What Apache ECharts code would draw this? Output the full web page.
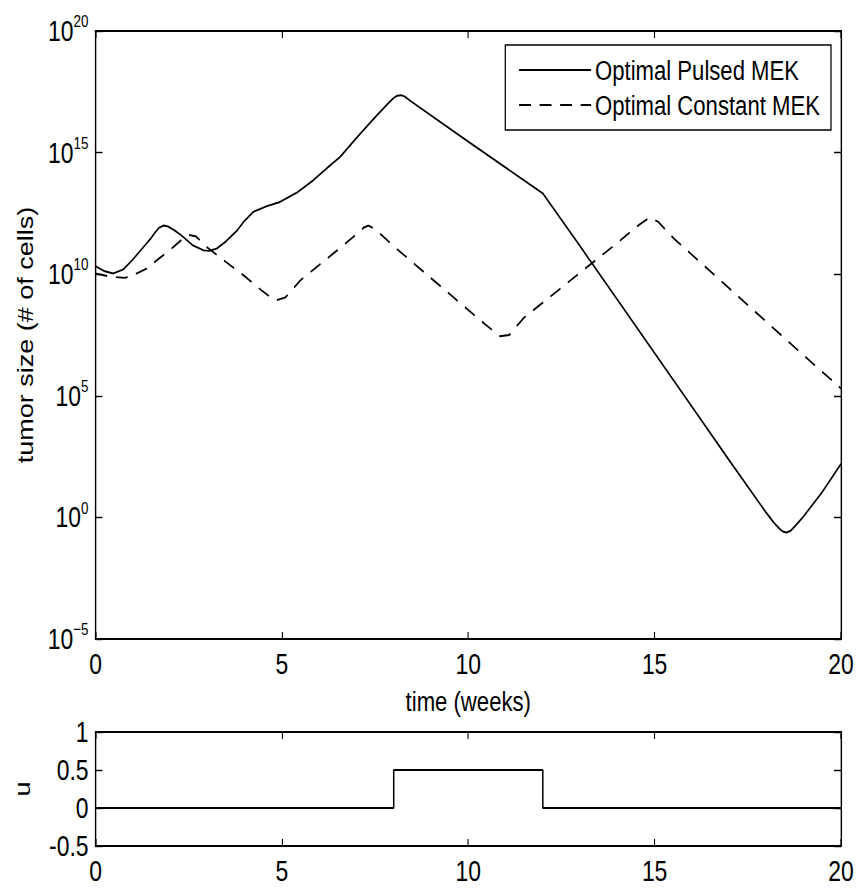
<!DOCTYPE html>
<html><head><meta charset="utf-8">
<script src="https://cdn.jsdelivr.net/npm/echarts@6/dist/echarts.min.js"></script>
<style>
html,body{margin:0;padding:0;background:#fff;overflow:hidden;width:859px;height:888px}
#wrap{width:859px;height:888px;overflow:hidden;position:relative}
#c{position:absolute;left:0;top:0;height:888px;transform-origin:0 0}
</style>
</head><body><div id="wrap"><div id="c"></div></div>
<script>
const FONT = "'Liberation Sans', Arial, Helvetica, sans-serif";
// the reference figure is horizontally condensed; draw wide, then squeeze horizontally
const SX = 0.79;
const W = 859 / SX;
const el = document.getElementById('c');
el.style.width = W + 'px';
el.style.transform = 'scaleX(' + SX + ')';
const px = v => v / SX; // screen px -> wide px (horizontal only)

// x ticks (weeks)
const xTicks = [0, 5, 10, 15, 20];
// y tick exponents for the tumor size axis (10^e)
const yExpTicks = [-5, 0, 5, 10, 15, 20];
// control axis ticks
const uTicks = [-0.5, 0, 0.5, 1];

const seriesNames = ['Optimal Pulsed MEK', 'Optimal Constant MEK'];

// Optimal Pulsed MEK: time (weeks) and log10(tumor size)
const pulsedT = [0, 0.25, 0.48, 0.75, 1.0, 1.25, 1.5, 1.6, 1.7, 1.82, 1.95, 2.1, 2.3, 2.6, 2.9, 3.05, 3.25, 3.5, 3.8, 4.0, 4.23, 4.6, 4.95, 5.4, 5.84, 6.2, 6.56, 7.0, 7.5, 7.9, 8.0, 8.1, 8.2, 8.3, 8.45, 10.0, 12.0, 13.0, 14.0, 15.0, 16.0, 17.0, 18.0, 18.2, 18.35, 18.45, 18.54, 18.65, 18.8, 19.0, 19.5, 20.0];
const pulsedLog10 = [10.33, 10.12, 10.03, 10.2, 10.6, 11.05, 11.5, 11.72, 11.9, 12.0, 11.96, 11.82, 11.6, 11.2, 10.98, 10.96, 11.05, 11.35, 11.8, 12.2, 12.56, 12.8, 12.97, 13.35, 13.86, 14.35, 14.82, 15.6, 16.45, 17.1, 17.25, 17.34, 17.36, 17.3, 17.12, 15.45, 13.32, 11.15, 8.95, 6.75, 4.55, 2.35, 0.18, -0.22, -0.47, -0.59, -0.62, -0.55, -0.3, 0.05, 1.05, 2.2];

// Optimal Constant MEK
const constantT = [0, 0.4, 0.79, 1.0, 1.37, 1.5, 2.0, 2.3, 2.5, 2.7, 3.0, 3.5, 4.0, 4.4, 4.7, 4.85, 5.1, 5.5, 6.0, 6.5, 7.0, 7.2, 7.32, 7.5, 8.0, 9.0, 10.0, 10.5, 10.85, 11.1, 11.5, 12.0, 13.0, 14.0, 14.6, 14.87, 15.1, 15.5, 16.0, 17.0, 18.0, 19.0, 20.0];
const constantLog10 = [10.03, 9.9, 9.85, 9.95, 10.23, 10.4, 11.0, 11.4, 11.62, 11.55, 11.1, 10.5, 9.92, 9.4, 9.05, 8.93, 9.05, 9.75, 10.38, 11.0, 11.64, 11.92, 12.0, 11.85, 11.15, 9.84, 8.53, 7.88, 7.45, 7.5, 8.22, 8.83, 10.06, 11.29, 12.05, 12.33, 12.15, 11.49, 10.8, 9.42, 8.04, 6.66, 5.3];

// control u(t): piecewise constant, value holds from each time to the next
const uT = [0, 8, 12, 20];
const uVal = [0, 0.5, 0, 0];

const pulsedData = pulsedT.map((t, i) => [t, Math.pow(10, pulsedLog10[i])]);
const constantData = constantT.map((t, i) => [t, Math.pow(10, constantLog10[i])]);
const uData = uT.map((t, i) => [t, uVal[i]]);

const black = '#000';
const axisLine = { show: true, onZero: false, lineStyle: { color: black, width: 1.8 } };
const tick = { show: true, inside: true, length: 7, lineStyle: { color: black, width: 1.4 } };
const tickY = { show: true, inside: true, length: px(7), lineStyle: { color: black, width: 1.4 } };

function xAx(grid, pos, labels, name) {
  return {
    gridIndex: grid, type: 'value', position: pos, min: xTicks[0], max: xTicks[xTicks.length - 1],
    interval: xTicks[1] - xTicks[0],
    axisLine, axisTick: tick, splitLine: { show: false },
    axisLabel: { show: labels, fontSize: 29, fontFamily: FONT, color: black, margin: 10 },
    name: name || '', nameLocation: 'middle', nameGap: 48, nameMoveOverlap: false,
    nameTextStyle: { fontSize: 28, fontFamily: FONT, color: black }
  };
}

const supStyle = { fontSize: 17, fontFamily: FONT, color: black, verticalAlign: 'top', lineHeight: 17 };
const baseStyle = { fontSize: 29, fontFamily: FONT, color: black, lineHeight: 37 };

function yLog(pos, labels) {
  return {
    gridIndex: 0, type: 'log', logBase: 10, position: pos,
    min: Math.pow(10, yExpTicks[0]), max: Math.pow(10, yExpTicks[yExpTicks.length - 1]),
    interval: yExpTicks[1] - yExpTicks[0], splitNumber: yExpTicks.length - 1,
    axisLine, axisTick: tickY, splitLine: { show: false }, minorTick: { show: false },
    axisLabel: {
      show: labels, margin: px(7),
      formatter: v => {
        const e = Math.round(Math.log10(v));
        return '{b|10}{s|' + (e < 0 ? '\u2212' + (-e) : e) + '}';
      },
      rich: { b: baseStyle, s: supStyle }
    },
    name: labels ? 'tumor size (# of cells)' : '', nameLocation: 'middle', nameGap: px(58), nameRotate: 90,
    nameMoveOverlap: false,
    nameTextStyle: { fontSize: 27, fontFamily: FONT, color: black, lineHeight: 30 }
  };
}

function yU(pos, labels) {
  return {
    gridIndex: 1, type: 'value', position: pos, min: uTicks[0], max: uTicks[uTicks.length - 1],
    interval: uTicks[1] - uTicks[0],
    axisLine, axisTick: tickY, splitLine: { show: false },
    axisLabel: { show: labels, fontSize: 29, fontFamily: FONT, color: black, margin: px(7),
      formatter: v => String(v) },
    name: labels ? 'u' : '', nameLocation: 'middle', nameGap: px(61), nameRotate: 90,
    nameMoveOverlap: false,
    nameTextStyle: { fontSize: 27, fontFamily: FONT, color: black, lineHeight: 30 }
  };
}

const chart = echarts.init(el, null, { renderer: 'svg', width: W, height: 888 });
chart.setOption({
  animation: false,
  backgroundColor: '#fff',
  grid: [
    { left: px(95.5), right: px(18), top: 31, height: 608, outerBoundsMode: 'none', containLabel: false },
    { left: px(95.5), right: px(18), top: 732, height: 114, outerBoundsMode: 'none', containLabel: false }
  ],
  xAxis: [xAx(0, 'bottom', true, 'time (weeks)'), xAx(0, 'top', false), xAx(1, 'bottom', true), xAx(1, 'top', false)],
  yAxis: [yLog('left', true), yLog('right', false), yU('left', true), yU('right', false)],
  legend: {
    data: seriesNames, orient: 'vertical', right: px(28), top: 45,
    backgroundColor: '#fff', borderColor: black, borderWidth: 1.6,
    padding: [10, px(11), 10, px(13)], itemWidth: px(72), itemHeight: 14, itemGap: 5,
    itemStyle: { opacity: 0, borderWidth: 0 },
    textStyle: { fontSize: 28, fontFamily: FONT, color: black, lineHeight: 30 }
  },
  series: [
    { name: seriesNames[0], type: 'line', xAxisIndex: 0, yAxisIndex: 0, data: pulsedData,
      symbol: 'none', lineStyle: { color: black, width: 1.9, type: 'solid' }, itemStyle: { color: black } },
    { name: seriesNames[1], type: 'line', xAxisIndex: 0, yAxisIndex: 0, data: constantData,
      symbol: 'none', lineStyle: { color: black, width: 1.9, type: [15, 11] }, itemStyle: { color: black } },
    { name: 'u', type: 'line', xAxisIndex: 2, yAxisIndex: 2, data: uData, step: 'end',
      symbol: 'none', lineStyle: { color: black, width: 1.9 }, itemStyle: { color: black } }
  ]
});
</script></body></html>
